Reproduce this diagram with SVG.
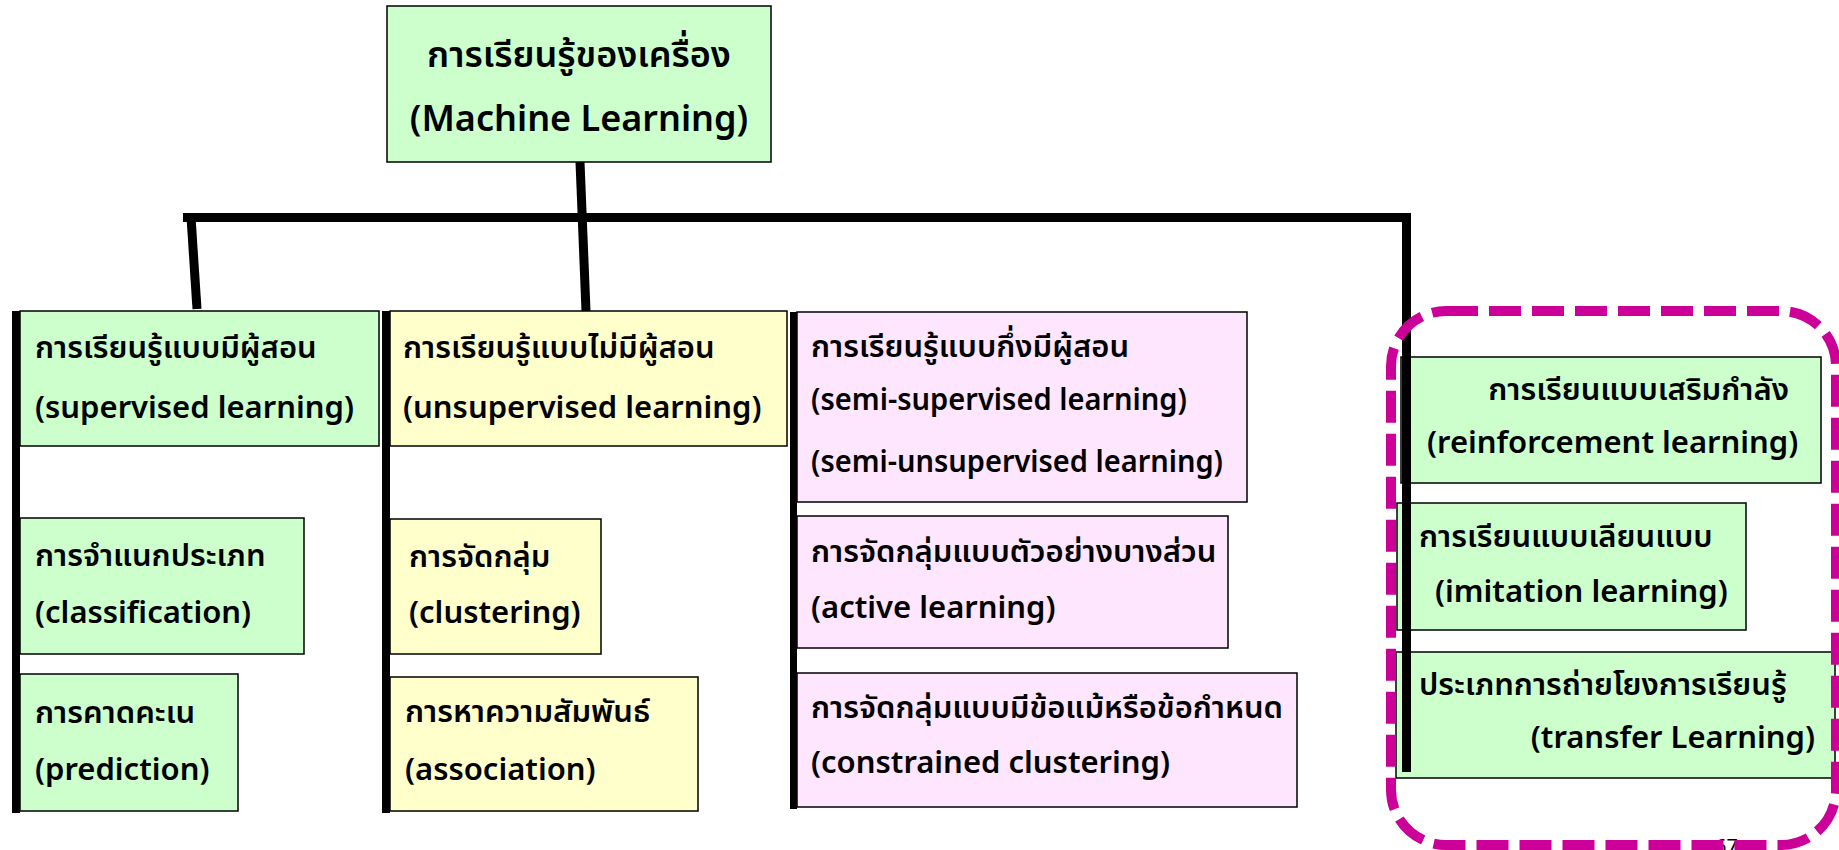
<svg xmlns="http://www.w3.org/2000/svg" width="1839" height="850" viewBox="0 0 1839 850">
<style>
.box{stroke:#000;stroke-width:1.5}
.g{fill:#CCFFCC}
.y{fill:#FFFFCC}
.p{fill:#FFE6FF}
text{font-family:"Noto Sans","Noto Sans Thai","Noto Sans CJK SC",sans-serif;font-size:31px;fill:#000;font-weight:600}
.root{font-size:36px}
.bar{fill:#000}
.conn{stroke:#000;stroke-width:9;fill:none;stroke-linecap:square}
</style>
<rect width="1839" height="850" fill="#fff"/>
<g id="connectors">
<line class="conn" x1="187.5" y1="217.5" x2="1406" y2="217.5"/>
<line class="conn" x1="191" y1="217" x2="197" y2="309" style="stroke-linecap:butt"/>
<line class="conn" x1="580" y1="162" x2="586" y2="311" style="stroke-linecap:butt"/>
<rect class="bar" x="1402" y="213" width="9" height="559"/>
</g>
<g id="root">
<rect class="box g" x="387" y="6" width="384" height="156"/>
<text class="root" x="579" y="67" text-anchor="middle">การเรียนรู้ของเครื่อง</text>
<text class="root" x="579" y="131" text-anchor="middle">(Machine Learning)</text>
</g>
<g id="supervised">
<rect class="box g" x="20" y="311" width="359" height="135"/>
<text x="35" y="358">การเรียนรู้แบบมีผู้สอน</text>
<text x="35" y="418">(supervised learning)</text>
</g>
<g id="classification">
<rect class="box g" x="20" y="518" width="284" height="136"/>
<text x="35" y="566">การจำแนกประเภท</text>
<text x="35" y="623">(classification)</text>
</g>
<g id="prediction">
<rect class="box g" x="20" y="674" width="218" height="137"/>
<text x="35" y="723">การคาดคะเน</text>
<text x="35" y="780">(prediction)</text>
</g>
<rect class="bar" x="12" y="311" width="8" height="502"/>
<g id="unsupervised">
<rect class="box y" x="390" y="311" width="397" height="135"/>
<text x="403" y="358">การเรียนรู้แบบไม่มีผู้สอน</text>
<text x="403" y="418">(unsupervised learning)</text>
</g>
<g id="clustering">
<rect class="box y" x="390" y="519" width="211" height="135"/>
<text x="409" y="567">การจัดกลุ่ม</text>
<text x="409" y="623">(clustering)</text>
</g>
<g id="association">
<rect class="box y" x="390" y="677" width="308" height="134"/>
<text x="405" y="722">การหาความสัมพันธ์</text>
<text x="405" y="780">(association)</text>
</g>
<rect class="bar" x="382" y="311" width="8" height="502"/>
<g id="semi">
<rect class="box p" x="797" y="312" width="450" height="190"/>
<text x="811" y="357">การเรียนรู้แบบกึ่งมีผู้สอน</text>
<text x="811" y="410" textLength="376" lengthAdjust="spacingAndGlyphs">(semi-supervised learning)</text>
<text x="811" y="472" textLength="412" lengthAdjust="spacingAndGlyphs">(semi-unsupervised learning)</text>
</g>
<g id="active">
<rect class="box p" x="797" y="516" width="431" height="132"/>
<text x="811" y="562">การจัดกลุ่มแบบตัวอย่างบางส่วน</text>
<text x="811" y="618">(active learning)</text>
</g>
<g id="constrained">
<rect class="box p" x="797" y="673" width="500" height="134"/>
<text x="811" y="718">การจัดกลุ่มแบบมีข้อแม้หรือข้อกำหนด</text>
<text x="811" y="773">(constrained clustering)</text>
</g>
<rect class="bar" x="790" y="312" width="7" height="497"/>
<g id="reinforcement">
<rect class="box g" x="1401" y="357" width="420" height="126"/>
<text x="1789" y="400" text-anchor="end">การเรียนแบบเสริมกำลัง</text>
<text x="1427" y="453">(reinforcement learning)</text>
</g>
<g id="imitation">
<rect class="box g" x="1397" y="503" width="349" height="127"/>
<text x="1419" y="547">การเรียนแบบเลียนแบบ</text>
<text x="1435" y="602">(imitation learning)</text>
</g>
<g id="transfer">
<rect class="box g" x="1396" y="652" width="439" height="126"/>
<text x="1419" y="695">ประเภทการถ่ายโยงการเรียนรู้</text>
<text x="1815" y="748" text-anchor="end">(transfer Learning)</text>
</g>
<rect class="bar" x="1402" y="357" width="9" height="415"/>
<text x="1715" y="853" style="font-size:20px;font-weight:normal">67</text>
<g id="highlight">
<rect x="1391" y="311" width="445" height="534" rx="55" ry="55" fill="none" stroke="#CC0099" stroke-width="10" stroke-dasharray="32 11"/>
</g>
</svg>
